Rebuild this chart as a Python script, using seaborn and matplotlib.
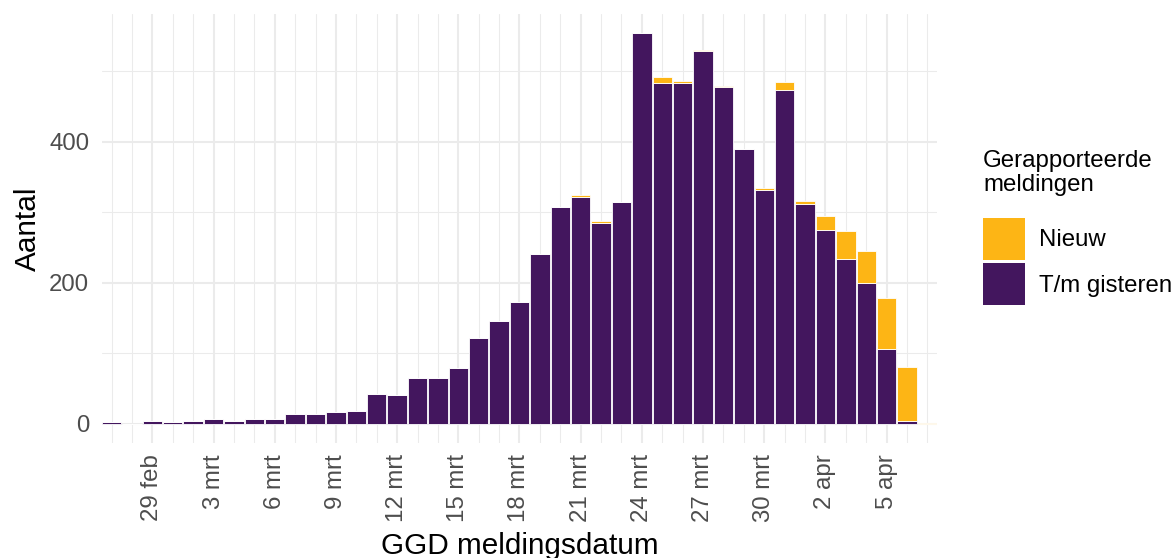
import pandas as pd
import matplotlib
matplotlib.use("Agg")
import matplotlib.pyplot as plt
import matplotlib.dates as mdates
from matplotlib.patches import Patch
from matplotlib.ticker import FixedLocator
import seaborn as sns

# GGD meldingen per dag, 27 feb t/m 7 apr 2020
datums = pd.date_range("2020-02-27", "2020-04-07", freq="D")
tm_gisteren = [2, 0, 3, 2, 3, 6, 4, 6, 6, 13, 14, 17, 18, 42, 41, 64, 64, 79, 122, 145,
               173, 241, 308, 322, 285, 315, 554, 484, 484, 529, 478, 390, 332, 474, 312,
               275, 234, 200, 106, 3, 0]
nieuw = [0, 0, 0, 0, 0, 0, 0, 0, 0, 0, 0, 0, 0, 0, 0, 0, 0, 0, 0, 0,
         0, 0, 0, 2, 3, 0, 0, 8, 3, 2, 2, 0, 3, 11, 4,
         20, 40, 45, 73, 78, 1]

tick_datums = ["2020-02-29", "2020-03-03", "2020-03-06", "2020-03-09", "2020-03-12",
               "2020-03-15", "2020-03-18", "2020-03-21", "2020-03-24", "2020-03-27",
               "2020-03-30", "2020-04-02", "2020-04-05"]
tick_labels = ["29 feb", "3 mrt", "6 mrt", "9 mrt", "12 mrt", "15 mrt", "18 mrt",
               "21 mrt", "24 mrt", "27 mrt", "30 mrt", "2 apr", "5 apr"]

kleuren = {"Nieuw": "#FDB515", "T/m gisteren": "#43165E"}

df = pd.concat([
    pd.DataFrame({"datum": datums, "aantal": nieuw, "status": "Nieuw"}),
    pd.DataFrame({"datum": datums, "aantal": tm_gisteren, "status": "T/m gisteren"}),
])
df["dag"] = mdates.date2num(df["datum"])

sns.set_style("white")
plt.rcParams["font.family"] = ["Liberation Sans", "DejaVu Sans"]
plt.rcParams["text.color"] = "black"

fig, ax = plt.subplots(figsize=(11.76, 5.58), dpi=100)
fig.subplots_adjust(left=0.0865, right=0.797, top=0.975, bottom=0.206)

sns.histplot(data=df, x="dag", weights="aantal", hue="status",
             hue_order=["Nieuw", "T/m gisteren"], multiple="stack", discrete=True,
             shrink=0.95, palette=kleuren, alpha=1, edgecolor="white", linewidth=0.6,
             legend=False, ax=ax)

dagen = mdates.date2num(datums)
ax.set_xlim(dagen[0] - 0.48, dagen[-1] + 0.48)
ax.set_ylim(-27.7, 581.7)

ax.set_xticks(mdates.date2num(pd.to_datetime(tick_datums)))
ax.set_xticklabels(tick_labels, rotation=90)
ax.xaxis.set_minor_locator(FixedLocator(dagen))
ax.set_yticks([0, 200, 400])
ax.yaxis.set_minor_locator(FixedLocator([100, 300, 500]))

ax.grid(which="major", color="#EBEBEB", linewidth=1.5)
ax.grid(which="minor", color="#EBEBEB", linewidth=0.75)
ax.set_axisbelow(True)
for s in ax.spines.values():
    s.set_visible(False)

ax.tick_params(which="both", length=0)
ax.tick_params(axis="x", labelsize=17.3, labelcolor="#4D4D4D", pad=8)
ax.tick_params(axis="y", labelsize=17.3, labelcolor="#4D4D4D", pad=9)

ax.set_xlabel("GGD meldingsdatum", fontsize=21.4, color="black", labelpad=7)
ax.set_ylabel("Aantal", fontsize=21.4, color="black", labelpad=5.5)

handles = [Patch(facecolor=kleuren[k], edgecolor="none") for k in ["Nieuw", "T/m gisteren"]]
leg = fig.legend(handles, ["Nieuw", "T/m gisteren"], title="Gerapporteerde\nmeldingen",
                 loc="upper left", bbox_to_anchor=(983 / 1176, 1 - 150 / 558),
                 frameon=False, fontsize=17.3, title_fontsize=17.3, alignment="left",
                 borderpad=0, borderaxespad=0, handlelength=1.75, handleheight=2.315,
                 handletextpad=0.6, labelspacing=0.14, labelcolor="black")
leg.get_title().set_linespacing(1.12)
leg.get_title().set_color("black")
leg._legend_box.sep = 15.8

fig.savefig("out.png", dpi=100)
